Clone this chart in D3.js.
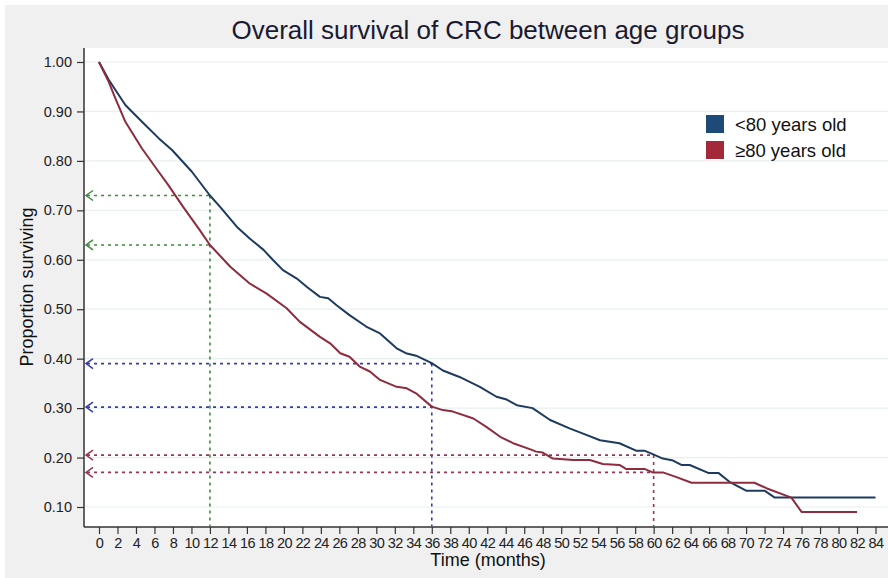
<!DOCTYPE html>
<html>
<head>
<meta charset="utf-8">
<script src="https://cdn.jsdelivr.net/npm/d3@7"></script>
<style>
  html, body { margin: 0; padding: 0; background: #ffffff; }
  svg { display: block; font-family: "Liberation Sans", Arial, sans-serif; }
</style>
</head>
<body>
<svg id="chart" width="888" height="578"></svg>
<script>
// Kaplan–Meier overall survival estimates, [month, proportion surviving]
const under80 = [
  [0,1.000],[1.05,0.964],[2.85,0.913],[4.65,0.879],[6.45,0.846],[7.9,0.822],
  [10.05,0.778],[12,0.730],[13.1,0.707],[14.9,0.667],[16.3,0.643],[17.8,0.620],
  [18.8,0.600],[19.9,0.579],[21.4,0.562],[22.5,0.545],[23.9,0.525],[24.8,0.522],
  [25.7,0.508],[27.1,0.488],[28.9,0.465],[30.4,0.451],[32.2,0.421],[33.2,0.411],
  [34.3,0.406],[36,0.391],[37.2,0.376],[39,0.363],[41.2,0.343],[43,0.323],
  [44,0.318],[45.2,0.306],[46.9,0.300],[48.8,0.276],[50.9,0.259],[52.3,0.249],
  [54.2,0.235],[56.3,0.229],[58.1,0.214],[59,0.214],[59.9,0.207],[61,0.198],
  [62.1,0.194],[63,0.185],[63.9,0.185],[65.9,0.169],[67,0.169],[68.2,0.151],
  [70,0.133],[72,0.133],[73.1,0.119],[84,0.119]
];
const over80 = [
  [0,1.000],[1.05,0.960],[1.76,0.927],[2.85,0.879],[4.65,0.825],[6.45,0.778],
  [7.5,0.751],[9.1,0.707],[10.9,0.660],[12,0.630],[14.2,0.586],[16.3,0.552],
  [18.1,0.532],[20.3,0.502],[21.7,0.475],[23.9,0.444],[25,0.431],[26.1,0.411],
  [27.1,0.404],[28.2,0.384],[29.3,0.374],[30.4,0.357],[32.2,0.343],[33.3,0.340],
  [34.3,0.330],[36,0.303],[37.2,0.296],[38.3,0.293],[40.5,0.279],[41.9,0.262],
  [43.4,0.242],[44.8,0.229],[46.6,0.217],[47.3,0.212],[48,0.210],[49.1,0.198],
  [51.3,0.195],[53.1,0.195],[54.5,0.187],[56.3,0.185],[57,0.177],[59,0.177],
  [59.9,0.170],[61,0.170],[62.4,0.161],[64.1,0.149],[70.9,0.149],[72.2,0.138],
  [74.9,0.119],[76,0.090],[82,0.090]
];

// Survival read-offs at 1, 3 and 5 years: [month, <80 value, >=80 value]
const landmarks = [
  [12, 0.730, 0.630],
  [36, 0.390, 0.302],
  [60, 0.205, 0.170]
];
const landmarkColors = ["#3f8a3f", "#3a3ab0", "#9b3358"];

const xTicks = d3.range(0, 85, 2);
const yTicks = d3.range(1, 11).map(d => d / 10);

const seriesNames = ["<80 years old", "\u226580 years old"];
const seriesColors = ["#1c3b5e", "#8e2c3e"];
const legendColors = ["#1d4a78", "#a2283a"];

const svg = d3.select("#chart");
const W = 888, H = 578;
const m = { left: 84, right: 0, top: 48, bottom: 51 };

// page and plot backgrounds
svg.append("rect").attr("x", 5).attr("y", 5).attr("width", W - 5).attr("height", H - 5).attr("fill", "#f0f0f0");
svg.append("rect").attr("x", m.left).attr("y", m.top).attr("width", W - m.left).attr("height", H - m.bottom - m.top).attr("fill", "#ffffff");

const x = d3.scaleLinear().domain([0, 84]).range([99, 875.5]);
const y = d3.scaleLinear().domain([0.1, 1.0]).range([507, 62]);

// light horizontal grid
svg.append("g").selectAll("line").data(yTicks).join("line")
  .attr("x1", m.left + 1).attr("x2", W)
  .attr("y1", d => y(d)).attr("y2", d => y(d))
  .attr("stroke", "#e8efef").attr("stroke-width", 1.2);

// axes
const yAxis = svg.append("g").attr("transform", `translate(${m.left},0)`)
  .call(d3.axisLeft(y).tickValues(yTicks).tickFormat(d3.format(".2f")).tickSize(7).tickPadding(5));
const xAxis = svg.append("g").attr("transform", `translate(0,${H - m.bottom})`)
  .call(d3.axisBottom(x).tickValues(xTicks).tickSize(7).tickPadding(4));
[yAxis, xAxis].forEach(g => {
  g.select(".domain").remove();
  g.selectAll(".tick line").attr("stroke", "#333").attr("stroke-width", 1.2);
  g.selectAll(".tick text").attr("fill", "#222").attr("font-size", 14.5).attr("font-family", "Liberation Sans, Arial, sans-serif");
});
xAxis.selectAll(".tick text").attr("letter-spacing", -0.6);
svg.append("line").attr("x1", m.left).attr("x2", m.left).attr("y1", m.top).attr("y2", H - m.bottom)
  .attr("stroke", "#333").attr("stroke-width", 1.5);
svg.append("line").attr("x1", m.left).attr("x2", W).attr("y1", H - m.bottom).attr("y2", H - m.bottom)
  .attr("stroke", "#333").attr("stroke-width", 1.5);

// dotted landmark guides with arrowheads at the y axis
const guides = svg.append("g").attr("fill", "none").attr("stroke-width", 1.6).attr("stroke-dasharray", "3,4");
landmarks.forEach(([t, hi, lo], i) => {
  const c = landmarkColors[i];
  [hi, lo].forEach(v => {
    guides.append("line").attr("x1", m.left + 3).attr("x2", x(t))
      .attr("y1", y(v)).attr("y2", y(v)).attr("stroke", c);
    svg.append("path")
      .attr("d", `M${m.left + 9},${y(v) - 5}L${m.left + 2},${y(v)}L${m.left + 9},${y(v) + 5}`)
      .attr("fill", "none").attr("stroke", c).attr("stroke-width", 1.5);
  });
  guides.append("line").attr("x1", x(t)).attr("x2", x(t))
    .attr("y1", y(hi)).attr("y2", H - m.bottom - 1).attr("stroke", c);
});

// survival curves
const line = d3.line().x(d => x(d[0])).y(d => y(d[1]));
[under80, over80].forEach((s, i) => {
  svg.append("path").datum(s).attr("d", line)
    .attr("fill", "none").attr("stroke", seriesColors[i])
    .attr("stroke-width", 2).attr("stroke-linejoin", "round");
});

// legend
const legend = svg.append("g").attr("transform", "translate(706,115)");
seriesNames.forEach((name, i) => {
  legend.append("rect").attr("x", 0).attr("y", i * 26).attr("width", 18).attr("height", 18)
    .attr("fill", legendColors[i]);
  legend.append("text").attr("x", 29).attr("y", i * 26 + 16)
    .attr("font-size", 18.5).attr("fill", "#111").text(name);
});

// titles
svg.append("text").attr("x", 488).attr("y", 39).attr("text-anchor", "middle")
  .attr("font-size", 26).attr("fill", "#1a1a30").text("Overall survival of CRC between age groups");
svg.append("text").attr("x", 488).attr("y", 566).attr("text-anchor", "middle")
  .attr("font-size", 18).attr("fill", "#111").text("Time (months)");
svg.append("text").attr("transform", "translate(33,287) rotate(-90)").attr("text-anchor", "middle")
  .attr("font-size", 18).attr("fill", "#111").text("Proportion surviving");
</script>
</body>
</html>
